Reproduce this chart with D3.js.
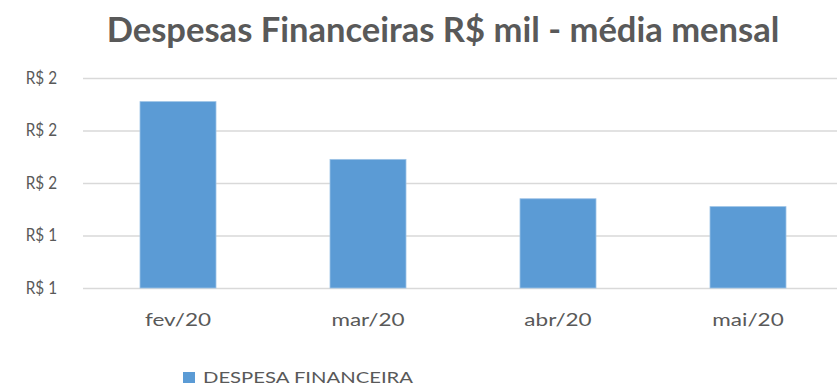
<!DOCTYPE html>
<html>
<head>
<meta charset="utf-8">
<script src="https://cdn.jsdelivr.net/npm/d3@7"></script>
<style>
  html, body { margin: 0; padding: 0; background: #fff; }
  svg { display: block; }
</style>
</head>
<body>
<svg id="chart" width="837" height="387"></svg>
<script>
// Monthly average of financial expenses (R$ thousand)
const categories = ["fev/20", "mar/20", "abr/20", "mai/20"];
const despesaFinanceira = [1.91, 1.69, 1.54, 1.51];
const yTicks = [1.2, 1.4, 1.6, 1.8, 2.0];
const seriesName = "DESPESA FINANCEIRA";
const titleText = "Despesas Financeiras R$ mil - média mensal";

const svg = d3.select("#chart");
const font = "Lato, 'Open Sans', 'Noto Sans', sans-serif";
const textColor = "#595959";
const barColor = "#5B9BD5";

const margin = { left: 83, right: -6, top: 78, bottom: 99 };
const W = 837, H = 387;

// Stretch a text element horizontally by a factor
function widen(sel, k) {
  sel.each(function () {
    const n = this.getComputedTextLength();
    d3.select(this).attr("textLength", n * k).attr("lengthAdjust", "spacingAndGlyphs");
  });
}

const x = d3.scaleBand()
  .domain(categories)
  .range([margin.left, W - margin.right])
  .paddingInner(0.6)
  .paddingOuter(0.3);

const y = d3.scaleLinear()
  .domain([1.2, 2.0])
  .range([H - margin.bottom, margin.top]);

// Title
const title = svg.append("text")
  .attr("x", 443)
  .attr("y", 42)
  .attr("text-anchor", "middle")
  .attr("font-family", font)
  .attr("font-weight", "bold")
  .attr("font-size", 28)
  .attr("fill", textColor)
  .text(titleText);
const tw = title.node().getComputedTextLength();
title.attr("font-size", 28 * 673 / tw);

// Horizontal gridlines and value labels
const yAxis = d3.axisLeft(y)
  .tickValues(yTicks)
  .tickSize(-(W - margin.right - margin.left))
  .tickPadding(26)
  .tickFormat(d => "R$ " + d3.format(".0f")(d));

const gy = svg.append("g")
  .attr("transform", `translate(${margin.left},0)`)
  .call(yAxis);
gy.select(".domain").remove();
gy.selectAll(".tick line").attr("stroke", "#d9d9d9").attr("stroke-width", 1.4);
gy.selectAll(".tick text")
  .attr("font-family", font)
  .attr("font-size", 17)
  .attr("dy", "0.3em")
  .attr("fill", textColor)
  .call(widen, 0.9);

// Bars
svg.append("g")
  .selectAll("rect")
  .data(despesaFinanceira)
  .join("rect")
  .attr("x", (d, i) => x(categories[i]))
  .attr("width", x.bandwidth())
  .attr("y", d => y(d))
  .attr("height", d => y(1.2) - y(d))
  .attr("fill", barColor)
  .attr("stroke", "#9dc3e6")
  .attr("stroke-width", 0.8);

// Category axis
const xAxis = d3.axisBottom(x).tickSize(0).tickPadding(0);
const gx = svg.append("g")
  .attr("transform", `translate(0,${y(1.2)})`)
  .call(xAxis);
gx.select(".domain").remove();
gx.selectAll(".tick text")
  .attr("y", 38)
  .attr("dy", null)
  .attr("font-family", font)
  .attr("font-size", 18)
  .attr("fill", textColor)
  .call(widen, 1.25);

// Legend
const legend = svg.append("g").attr("transform", "translate(183,372)");
legend.append("rect")
  .attr("width", 12).attr("height", 11)
  .attr("fill", barColor);
legend.append("text")
  .attr("x", 20).attr("y", 11)
  .attr("font-family", font)
  .attr("font-size", 16)
  .attr("fill", textColor)
  .attr("textLength", 210)
  .attr("lengthAdjust", "spacingAndGlyphs")
  .text(seriesName);
</script>
</body>
</html>
